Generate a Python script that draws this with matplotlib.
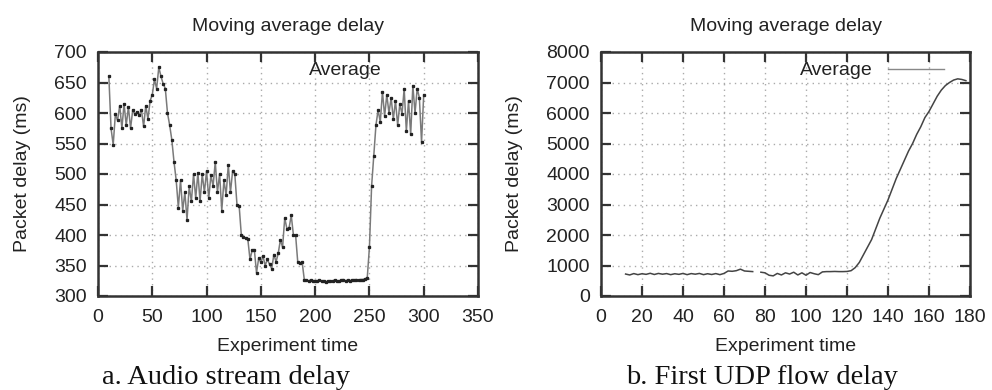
import matplotlib
matplotlib.use('Agg')
from matplotlib import pyplot as plt
from matplotlib.lines import Line2D
import numpy as np

matplotlib.rcParams['font.family'] = ['Liberation Sans', 'DejaVu Sans']

# audio stream: moving average delay (ms), sampled every 2 s from t=10 to 300
audio_time = np.arange(10, 301, 2)
audio_delay = [
    660, 575, 548, 598, 588, 612, 575, 615, 580, 610,
    575, 605, 598, 602, 596, 605, 578, 612, 590, 620,
    630, 655, 640, 675, 660, 648, 640, 600, 580, 556,
    520, 490, 445, 490, 440, 470, 425, 480, 455, 500,
    460, 502, 455, 500, 470, 505, 460, 498, 480, 520,
    470, 500, 440, 490, 465, 515, 470, 505, 500, 450,
    448, 400, 397, 395, 393, 360, 375, 376, 338, 362,
    355, 365, 350, 360, 352, 345, 368, 356, 370, 392,
    380, 428, 410, 412, 432, 400, 400, 355, 354, 356,
    327,
    326, 325, 326, 325, 324, 325, 326, 325, 324, 323,
    325, 324, 325, 326, 325, 324, 326, 327, 325, 326,
    325, 326, 326, 327, 326, 327, 327, 328,
    330, 380, 480, 530, 580, 605, 585, 635, 595, 630,
    600, 625, 590, 620, 580, 615, 598, 640, 570, 620,
    565, 645, 600, 640, 625, 552, 630,
]

# first UDP flow: moving average delay (ms), sampled every 2 s from t=12 to 178
udp_time = np.arange(12, 179, 2)
udp_delay = [
    720, 690, 735, 700, 730, 710, 745, 705, 740, 715,
    735, 700, 730, 710, 740, 700, 735, 715, 740, 700,
    730, 705, 735, 700, 740, 820, 810, 830, 880, 820,
    810, 800, np.nan, 780, 760, 680, 660, 740, 690, 760,
    720, 780, 690, 760, 680, 770, 730, 700, 790, 800,
    800, 805, 800, 800, 805, 830, 930, 1100, 1350, 1600,
    1850, 2200, 2550, 2850, 3150, 3500, 3850, 4150, 4450, 4750,
    5000, 5300, 5550, 5850, 6050, 6300, 6550, 6750, 6900, 7000,
    7080, 7120, 7100, 7060,
]

audio_xticks = [0, 50, 100, 150, 200, 250, 300, 350]
audio_yticks = [300, 350, 400, 450, 500, 550, 600, 650, 700]
udp_xticks = [0, 20, 40, 60, 80, 100, 120, 140, 160, 180]
udp_yticks = [0, 1000, 2000, 3000, 4000, 5000, 6000, 7000, 8000]

TXT = '#222222'
FS = 14


def style(ax, xticks, yticks):
    ax.set_xticks(xticks)
    ax.set_yticks(yticks)
    ax.set_xlim(xticks[0], xticks[-1])
    ax.set_ylim(yticks[0], yticks[-1])
    ax.tick_params(direction='in', length=7, width=1.6, color='#333333',
                   top=True, right=True, labelsize=FS, labelcolor=TXT)
    ax.tick_params(axis='x', pad=9)
    ax.tick_params(axis='y', pad=8)
    for s in ax.spines.values():
        s.set_linewidth(1.8)
        s.set_color('#333333')
    ax.grid(True, linestyle=(0, (1, 3)), color='#aaaaaa', linewidth=1)
    ax.set_axisbelow(True)
    ax.set_title('Moving average delay', fontsize=FS, color=TXT, pad=15)
    ax.set_xlabel('Experiment time', fontsize=FS, color=TXT, labelpad=9)
    ax.set_ylabel('Packet delay (ms)', fontsize=FS, color=TXT, labelpad=17)


fig = plt.figure(figsize=(9.92, 3.9), dpi=100)
ax1 = fig.add_axes([98 / 992, 1 - 296 / 390, 380 / 992, 244 / 390])
ax2 = fig.add_axes([601 / 992, 1 - 296 / 390, 369 / 992, 244 / 390])

assert len(audio_time) == len(audio_delay)
assert len(udp_time) == len(udp_delay)

ax1.plot(audio_time, audio_delay, color='#7a7a7a', linewidth=1.1,
         marker='s', markersize=1.4, markerfacecolor='#222222',
         markeredgecolor='#222222')
style(ax1, audio_xticks, audio_yticks)
ax1.legend(handles=[Line2D([], [], color='none')], labels=['Average'],
           loc='upper right', bbox_to_anchor=(0.937, 0.96), frameon=False,
           markerfirst=False, handlelength=2.9, handletextpad=0.8,
           borderpad=0, borderaxespad=0, fontsize=FS, labelcolor=TXT)

ax2.plot(udp_time, udp_delay, color='#444444', linewidth=1.1)
style(ax2, udp_xticks, udp_yticks)
ax2.legend(handles=[Line2D([], [], color='#888888', linewidth=1)],
           labels=['Average'], loc='upper right',
           bbox_to_anchor=(0.93, 0.96), frameon=False, markerfirst=False,
           handlelength=2.9, handletextpad=0.8, borderpad=0,
           borderaxespad=0, fontsize=FS, labelcolor=TXT)

fig.text(226 / 992, 1 - 377 / 390, 'a. Audio stream delay', ha='center',
         va='center', fontsize=20.5, family='Liberation Serif', color='#111111')
fig.text(762 / 992, 1 - 377 / 390, 'b. First UDP flow delay', ha='center',
         va='center', fontsize=20.5, family='Liberation Serif', color='#111111')

fig.savefig('out.png', dpi=100)
